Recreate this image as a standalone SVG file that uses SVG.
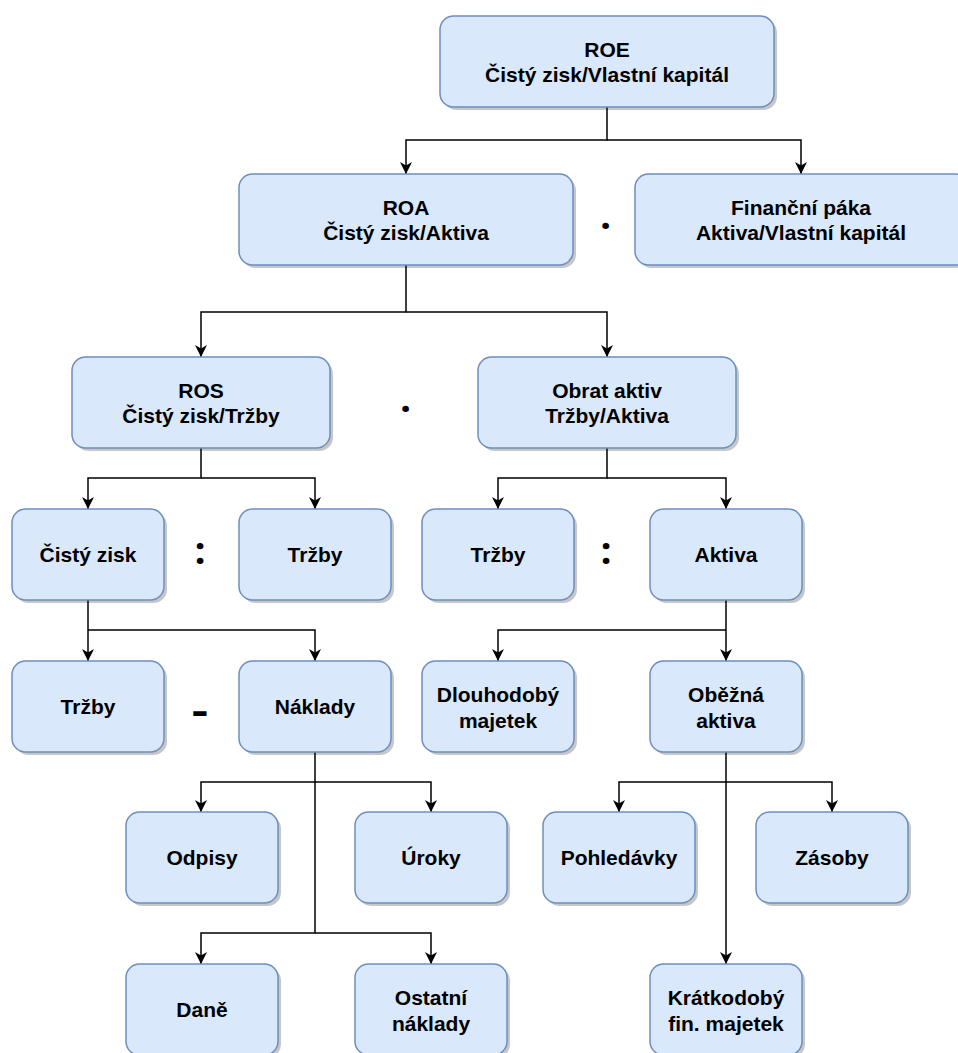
<svg xmlns="http://www.w3.org/2000/svg" width="958" height="1053" viewBox="0 0 958 1053">
<style>
.box{fill:#dae8fc;stroke:#6c8ebf;stroke-width:1.5}
.sh{fill:#000;fill-opacity:0.22;stroke:none}
.t{font-family:"Liberation Sans",Arial,sans-serif;font-weight:bold;font-size:21px;fill:#000;text-anchor:middle}
.op{font-family:"Noto Sans","Liberation Sans",sans-serif;font-weight:bold;fill:#000;text-anchor:middle}
.c{fill:none;stroke:#000;stroke-width:1.5}
</style>
<defs>
<marker id="ar" viewBox="0 0 12 12" refX="12" refY="6" markerWidth="12" markerHeight="12" markerUnits="userSpaceOnUse" orient="auto">
<path d="M0,0 L12,6 L0,12 L3.5,6 Z" fill="#000"/>
</marker>
</defs>
<rect width="958" height="1053" fill="#fff"/>

<g id="connectors">
<path class="c" d="M607,107 V140 H406 V174" marker-end="url(#ar)"/>
<path class="c" d="M607,140 H801 V174" marker-end="url(#ar)"/>
<path class="c" d="M406,265 V312 H201 V357" marker-end="url(#ar)"/>
<path class="c" d="M406,312 H607 V357" marker-end="url(#ar)"/>
<path class="c" d="M201,448 V478 H88 V509" marker-end="url(#ar)"/>
<path class="c" d="M201,478 H315 V509" marker-end="url(#ar)"/>
<path class="c" d="M607,448 V478 H498 V509" marker-end="url(#ar)"/>
<path class="c" d="M607,478 H726 V509" marker-end="url(#ar)"/>
<path class="c" d="M88,600 V661" marker-end="url(#ar)"/>
<path class="c" d="M88,630 H315 V661" marker-end="url(#ar)"/>
<path class="c" d="M726,600 V661" marker-end="url(#ar)"/>
<path class="c" d="M726,630 H498 V661" marker-end="url(#ar)"/>
<path class="c" d="M315,752 V782 H201 V812" marker-end="url(#ar)"/>
<path class="c" d="M315,782 H431 V812" marker-end="url(#ar)"/>
<path class="c" d="M315,782 V933 H201 V964" marker-end="url(#ar)"/>
<path class="c" d="M315,933 H431 V964" marker-end="url(#ar)"/>
<path class="c" d="M726,752 V782 H619 V812" marker-end="url(#ar)"/>
<path class="c" d="M726,782 H832 V812" marker-end="url(#ar)"/>
<path class="c" d="M726,782 V964" marker-end="url(#ar)"/>
</g>

<g id="roe">
<rect class="sh" x="443" y="19" width="334" height="91" rx="13.6"/>
<rect class="box" x="440" y="16" width="334" height="91" rx="13.6"/>
<text class="t" x="607" y="56.5">ROE</text>
<text class="t" x="607" y="81.5">Čistý zisk/Vlastní kapitál</text>
</g>

<g id="roa">
<rect class="sh" x="242" y="177" width="334" height="91" rx="13.6"/>
<rect class="box" x="239" y="174" width="334" height="91" rx="13.6"/>
<text class="t" x="406" y="214.5">ROA</text>
<text class="t" x="406" y="239.5">Čistý zisk/Aktiva</text>
</g>

<g id="financni-paka">
<rect class="sh" x="638" y="177" width="334" height="91" rx="13.6"/>
<rect class="box" x="635" y="174" width="334" height="91" rx="13.6"/>
<text class="t" x="801" y="214.5">Finanční páka</text>
<text class="t" x="801" y="239.5">Aktiva/Vlastní kapitál</text>
</g>

<g id="ros">
<rect class="sh" x="75" y="360" width="258" height="91" rx="13.6"/>
<rect class="box" x="72" y="357" width="258" height="91" rx="13.6"/>
<text class="t" x="201" y="397.5">ROS</text>
<text class="t" x="201" y="422.5">Čistý zisk/Tržby</text>
</g>

<g id="obrat-aktiv">
<rect class="sh" x="481" y="360" width="258" height="91" rx="13.6"/>
<rect class="box" x="478" y="357" width="258" height="91" rx="13.6"/>
<text class="t" x="607" y="397.5">Obrat aktiv</text>
<text class="t" x="607" y="422.5">Tržby/Aktiva</text>
</g>

<g id="cisty-zisk">
<rect class="sh" x="15" y="512" width="152" height="91" rx="13.6"/>
<rect class="box" x="12" y="509" width="152" height="91" rx="13.6"/>
<text class="t" x="88" y="562">Čistý zisk</text>
</g>

<g id="trzby-1">
<rect class="sh" x="242" y="512" width="152" height="91" rx="13.6"/>
<rect class="box" x="239" y="509" width="152" height="91" rx="13.6"/>
<text class="t" x="315" y="562">Tržby</text>
</g>

<g id="trzby-2">
<rect class="sh" x="425" y="512" width="152" height="91" rx="13.6"/>
<rect class="box" x="422" y="509" width="152" height="91" rx="13.6"/>
<text class="t" x="498" y="562">Tržby</text>
</g>

<g id="aktiva">
<rect class="sh" x="653" y="512" width="152" height="91" rx="13.6"/>
<rect class="box" x="650" y="509" width="152" height="91" rx="13.6"/>
<text class="t" x="726" y="562">Aktiva</text>
</g>

<g id="trzby-3">
<rect class="sh" x="15" y="664" width="152" height="91" rx="13.6"/>
<rect class="box" x="12" y="661" width="152" height="91" rx="13.6"/>
<text class="t" x="88" y="714">Tržby</text>
</g>

<g id="naklady">
<rect class="sh" x="242" y="664" width="152" height="91" rx="13.6"/>
<rect class="box" x="239" y="661" width="152" height="91" rx="13.6"/>
<text class="t" x="315" y="714">Náklady</text>
</g>

<g id="dlouhodoby-majetek">
<rect class="sh" x="425" y="664" width="152" height="91" rx="13.6"/>
<rect class="box" x="422" y="661" width="152" height="91" rx="13.6"/>
<text class="t" x="498" y="702">Dlouhodobý</text>
<text class="t" x="498" y="728">majetek</text>
</g>

<g id="obezna-aktiva">
<rect class="sh" x="653" y="664" width="152" height="91" rx="13.6"/>
<rect class="box" x="650" y="661" width="152" height="91" rx="13.6"/>
<text class="t" x="726" y="702">Oběžná</text>
<text class="t" x="726" y="728">aktiva</text>
</g>

<g id="odpisy">
<rect class="sh" x="129" y="815" width="152" height="91" rx="13.6"/>
<rect class="box" x="126" y="812" width="152" height="91" rx="13.6"/>
<text class="t" x="202" y="865">Odpisy</text>
</g>

<g id="uroky">
<rect class="sh" x="358" y="815" width="152" height="91" rx="13.6"/>
<rect class="box" x="355" y="812" width="152" height="91" rx="13.6"/>
<text class="t" x="431" y="865">Úroky</text>
</g>

<g id="pohledavky">
<rect class="sh" x="546" y="815" width="152" height="91" rx="13.6"/>
<rect class="box" x="543" y="812" width="152" height="91" rx="13.6"/>
<text class="t" x="619" y="865">Pohledávky</text>
</g>

<g id="zasoby">
<rect class="sh" x="759" y="815" width="152" height="91" rx="13.6"/>
<rect class="box" x="756" y="812" width="152" height="91" rx="13.6"/>
<text class="t" x="832" y="865">Zásoby</text>
</g>

<g id="dane">
<rect class="sh" x="129" y="967" width="152" height="91" rx="13.6"/>
<rect class="box" x="126" y="964" width="152" height="91" rx="13.6"/>
<text class="t" x="202" y="1017">Daně</text>
</g>

<g id="ostatni-naklady">
<rect class="sh" x="358" y="967" width="152" height="91" rx="13.6"/>
<rect class="box" x="355" y="964" width="152" height="91" rx="13.6"/>
<text class="t" x="431" y="1005">Ostatní</text>
<text class="t" x="431" y="1031">náklady</text>
</g>

<g id="kratkodoby-fin-majetek">
<rect class="sh" x="653" y="967" width="152" height="91" rx="13.6"/>
<rect class="box" x="650" y="964" width="152" height="91" rx="13.6"/>
<text class="t" x="726" y="1005">Krátkodobý</text>
<text class="t" x="726" y="1031">fin. majetek</text>
</g>

<g id="operators">
<text class="op" x="605.7" y="229" font-size="38">.</text>
<text class="op" x="405.7" y="412" font-size="38">.</text>
<text class="op" x="200" y="564" font-size="38">:</text>
<text class="op" x="606" y="564" font-size="38">:</text>
<text class="t" font-size="40" style="font-size:40px" transform="translate(200,724) scale(1.3,1)">-</text>
</g>
</svg>
